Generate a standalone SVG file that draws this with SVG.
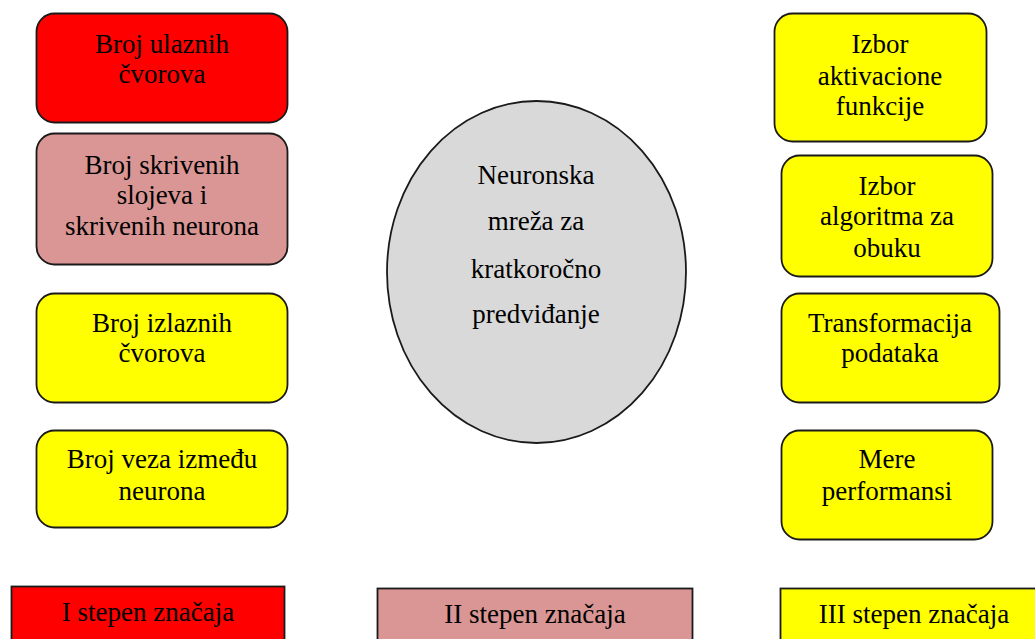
<svg xmlns="http://www.w3.org/2000/svg" width="1035" height="639" viewBox="0 0 1035 639">
<style>
.b{stroke:#1a1a1a;stroke-width:1.8}
.red{fill:#FF0000}
.pink{fill:#D99694}
.yel{fill:#FFFF00}
.gray{fill:#D9D9D9}
text{font-size:27px;fill:#000;text-anchor:middle}
</style>
<rect width="1035" height="639" fill="#fff"/>
<g id="connectors"></g>
<g font-family="Liberation Serif, DejaVu Serif, serif">
<g id="n-ulazni">
<rect class="b red" x="36.5" y="13.5" width="251" height="109" rx="18"/>
<text x="162" y="53">Broj ulaznih</text>
<text x="162" y="83">čvorova</text>
</g>
<g id="n-skriveni">
<rect class="b pink" x="36.5" y="133.5" width="251" height="131" rx="18"/>
<text x="162" y="174">Broj skrivenih</text>
<text x="162" y="204">slojeva i</text>
<text x="162" y="235">skrivenih neurona</text>
</g>
<g id="n-izlazni">
<rect class="b yel" x="36.5" y="293.5" width="251" height="109" rx="18"/>
<text x="162" y="332">Broj izlaznih</text>
<text x="162" y="362">čvorova</text>
</g>
<g id="n-veze">
<rect class="b yel" x="36.5" y="430.5" width="251" height="97" rx="18"/>
<text x="162" y="468">Broj veza između</text>
<text x="162" y="500">neurona</text>
</g>
<g id="n-centar">
<ellipse class="b gray" cx="536.5" cy="272" rx="149.5" ry="171"/>
<text x="536" y="184">Neuronska</text>
<text x="536" y="230">mreža za</text>
<text x="536" y="278">kratkoročno</text>
<text x="536" y="323">predviđanje</text>
</g>
<g id="n-aktivacija">
<rect class="b yel" x="774.5" y="13.5" width="212" height="128" rx="18"/>
<text x="880" y="53">Izbor</text>
<text x="880" y="85">aktivacione</text>
<text x="880" y="115">funkcije</text>
</g>
<g id="n-algoritam">
<rect class="b yel" x="781.5" y="155.5" width="211" height="121" rx="18"/>
<text x="887" y="195">Izbor</text>
<text x="887" y="225">algoritma za</text>
<text x="887" y="257">obuku</text>
</g>
<g id="n-transformacija">
<rect class="b yel" x="781.5" y="293.5" width="218" height="109" rx="18"/>
<text x="890" y="332">Transformacija</text>
<text x="890" y="362">podataka</text>
</g>
<g id="n-mere">
<rect class="b yel" x="781.5" y="430.5" width="211" height="109" rx="18"/>
<text x="887" y="468">Mere</text>
<text x="887" y="500">performansi</text>
</g>
<g id="legend-1">
<rect class="b red" x="11.5" y="586.5" width="273" height="70"/>
<text x="148" y="621">I stepen značaja</text>
</g>
<g id="legend-2">
<rect class="b pink" x="377.5" y="588.5" width="315" height="70"/>
<text x="535" y="623">II stepen značaja</text>
</g>
<g id="legend-3">
<rect class="b yel" x="780.5" y="588.5" width="270" height="70"/>
<text x="914" y="623">III stepen značaja</text>
</g>
</g>
</svg>
